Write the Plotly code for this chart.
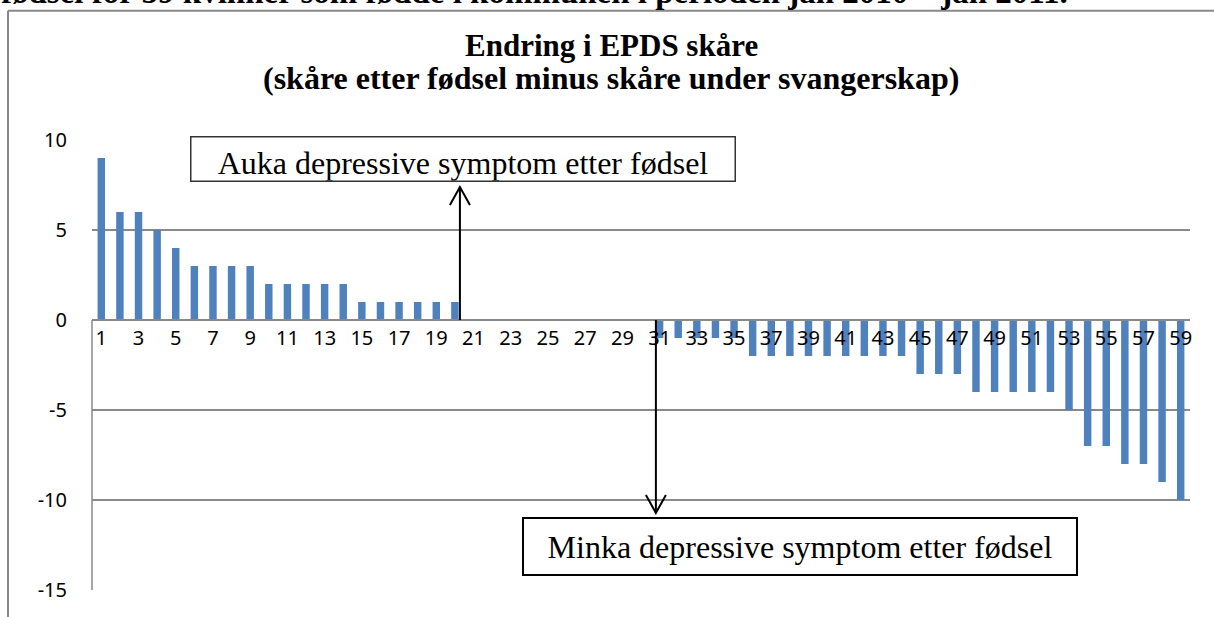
import plotly.graph_objects as go

# respondents 1..59, change in EPDS score (after birth minus during pregnancy)
respondent = list(range(1, 60))
change = [9, 6, 6, 5, 4, 3, 3, 3, 3, 2,
          2, 2, 2, 2, 1, 1, 1, 1, 1, 1,
          0, 0, 0, 0, 0, 0, 0, 0, 0, 0,
          -1, -1, -1, -1, -1, -2, -2, -2, -2, -2,
          -2, -2, -2, -2, -3, -3, -3, -4, -4, -4,
          -4, -4, -5, -7, -7, -8, -8, -9, -10]
y_ticks = [10, 5, 0, -5, -10, -15]

title_line1 = "Endring i EPDS skåre"
title_line2 = "(skåre etter fødsel minus skåre under svangerskap)"
top_text = "fødsel for 59 kvinner som fødde i kommunen i perioden jan 2010 – jan 2011."
up_label = "Auka depressive symptom etter fødsel"
down_label = "Minka depressive symptom etter fødsel"

grid = '#898989'
serif = 'Liberation Serif, Times New Roman, serif'
sans = 'Noto Sans, Open Sans, sans-serif'

fig = go.Figure()
fig.add_trace(go.Bar(
    x=respondent, y=change,
    width=0.4,
    marker=dict(color='#4F81BD', line_width=0),
    hoverinfo='x+y'
))

# axes: x axis line sits on the zero line like in Excel
ymin, ymax = y_ticks[-1], y_ticks[0]
zero_pos = (0 - ymin) / (ymax - ymin)

fig.update_layout(
    width=1214, height=617,
    margin=dict(l=92, r=24, t=140, b=27),
    plot_bgcolor='white', paper_bgcolor='white',
    showlegend=False,
    xaxis=dict(
        range=[0.5, 59.5],
        tickvals=respondent[::2],
        anchor='free', position=zero_pos,
        showline=True, linecolor=grid, linewidth=1.5,
        showgrid=False, zeroline=False, ticks='',
        tickfont=dict(family=sans, size=20, color='black'),
    ),
    yaxis=dict(
        range=[ymin, ymax],
        tickvals=y_ticks,
        ticktext=[str(v) for v in y_ticks],
        showgrid=True, gridcolor=grid, gridwidth=1.5,
        zeroline=False, showline=False, ticks='',
        ticklabelstandoff=24,
        tickfont=dict(family=sans, size=20, color='black'),
    ),
)

# chart area frame (left and top edges only are visible)
fig.add_shape(type='line', xref='paper', yref='paper',
              x0=-0.0765, x1=-0.0765, y0=1.287, y1=-0.1,
              line=dict(color=grid, width=2))
fig.add_shape(type='line', xref='paper', yref='paper',
              x0=-0.0765, x1=1.05, y0=1.287, y1=1.287,
              line=dict(color=grid, width=2))
# value axis line below zero
fig.add_shape(type='line', xref='paper', yref='y',
              x0=0, x1=0, y0=ymin, y1=0,
              line=dict(color=grid, width=1.5))

# clipped heading from the page above
fig.add_annotation(text='<b>' + top_text + '</b>', xref='paper', yref='paper',
                   x=-0.0845, y=1.284, xanchor='left', yanchor='bottom',
                   showarrow=False, font=dict(family=serif, size=33, color='black'))

# chart title, two lines
fig.add_annotation(text='<b>' + title_line1 + '</b>', xref='paper', yref='paper',
                   x=0.4727, y=1.209, xanchor='center', yanchor='middle',
                   showarrow=False, font=dict(family=serif, size=31, color='black'))
fig.add_annotation(text='<b>' + title_line2 + '</b>', xref='paper', yref='paper',
                   x=0.4727, y=1.138, xanchor='center', yanchor='middle',
                   showarrow=False, font=dict(family=serif, size=32, color='black'))

# arrows
def add_arrow(x, y_tip, up):
    fig.add_shape(type='line', xref='x', yref='y', x0=x, x1=x, y0=0, y1=y_tip,
                  line=dict(color='black', width=2))
    s = -1 if up else 1
    fig.add_shape(type='path', xref='x', yref='y',
                  xsizemode='pixel', ysizemode='pixel', xanchor=x, yanchor=y_tip,
                  path=f'M-10,{s*18} L0,0 L10,{s*18}',
                  line=dict(color='black', width=2))

add_arrow(20.27, 7.39, True)
add_arrow(30.8, -10.72, False)

# text boxes
fig.add_annotation(text=up_label, xref='x', yref='y', x=20.41, y=8.92,
                   showarrow=False, width=543, height=43, align='center', valign='bottom',
                   bordercolor='#333333', borderwidth=1.5, borderpad=0, bgcolor='white',
                   font=dict(family=serif, size=32, color='black'))
fig.add_annotation(text=down_label, xref='x', yref='y', x=38.54, y=-12.58,
                   showarrow=False, width=552, height=55, align='center',
                   bordercolor='black', borderwidth=2, borderpad=0, bgcolor='white',
                   font=dict(family=serif, size=32, color='black'))

fig.write_html("out.html", config={'displayModeBar': False},
               post_script="document.body.style.margin='0';")
